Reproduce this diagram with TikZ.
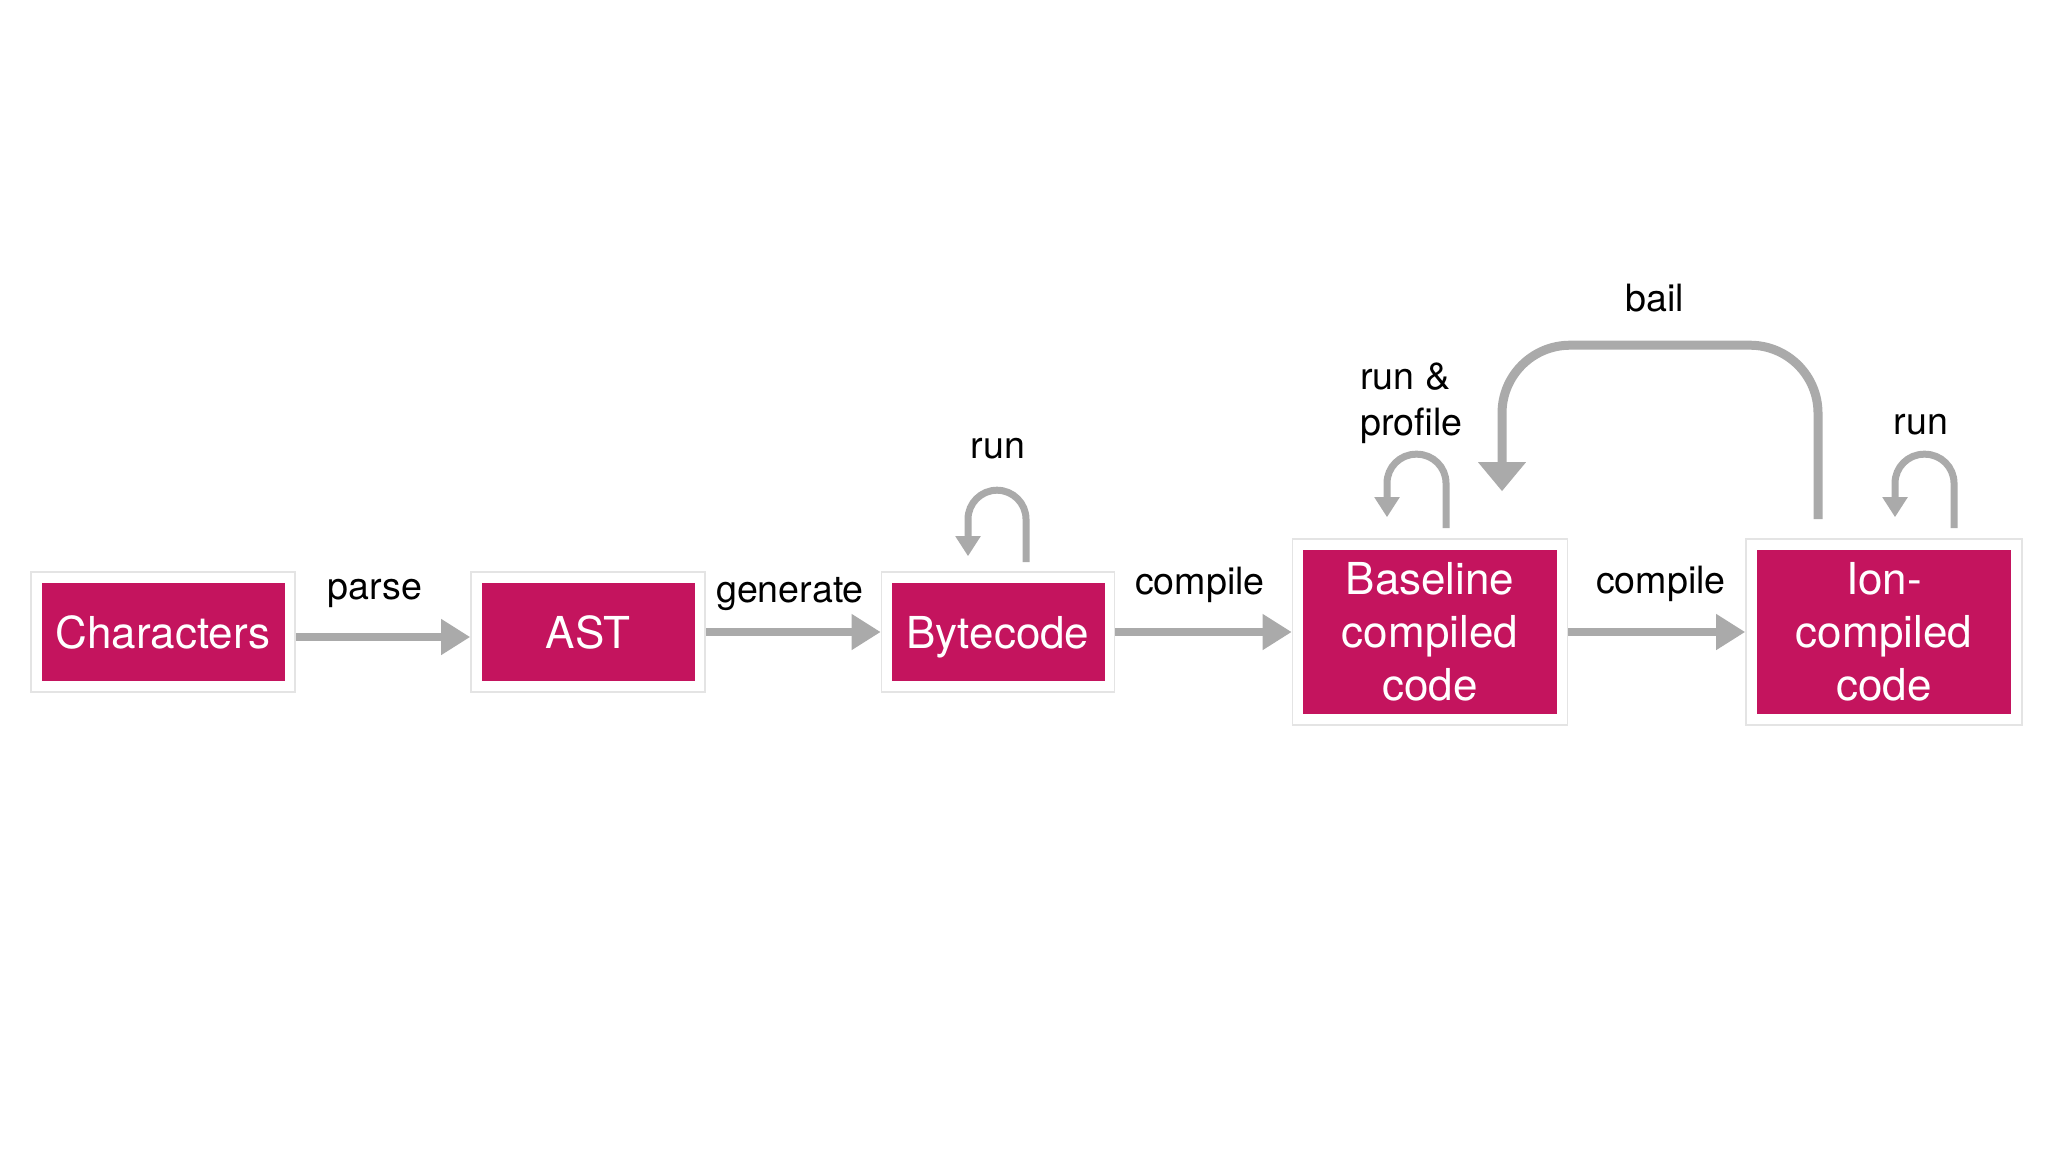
\documentclass[tikz,border=0pt]{standalone}
\usepackage{fontspec}
\setmainfont{TeX Gyre Heros}
\usetikzlibrary{arrows.meta,calc}
\definecolor{boxred}{HTML}{C4145E}
\definecolor{arrowgray}{HTML}{AAAAAA}
\definecolor{framegray}{HTML}{E4E4E4}
\tikzset{
  frame/.style={draw=framegray, line width=0.8pt, fill=white, inner sep=0pt},
  stagebox/.style={fill=boxred, text=white, inner sep=0pt, align=center,
     font=\fontsize{22pt}{26.5pt}\selectfont},
  onebox/.style={stagebox, text height=16pt, text depth=0pt},
  lbl/.style={text=black, inner sep=0pt, font=\fontsize{18.8pt}{23pt}\selectfont},
  mainar/.style={draw=arrowgray, line width=4pt, -{Triangle[length=14.5pt,width=17pt]}},
  loopar/.style={draw=arrowgray, line width=3.5pt, rounded corners=14.5pt,
     -{Triangle[length=10pt,width=12pt]}},
  bailar/.style={draw=arrowgray, line width=4.5pt, rounded corners=34pt,
     -{Triangle[length=14.5pt,width=23pt]}}
}
\begin{document}
\begin{tikzpicture}[x=0.5pt,y=-0.5pt]
\useasboundingbox[fill=white] (0,0) rectangle (2048,1152);

% frames
\node[frame, minimum width=132pt, minimum height=60pt] (charsF) at (163,632) {};
\node[frame, minimum width=117pt, minimum height=60pt] (astF) at (588,632) {};
\node[frame, minimum width=116.5pt, minimum height=60pt] (byteF) at (998,632) {};
\node[frame, minimum width=137.5pt, minimum height=93pt] (baseF) at (1430,632) {};
\node[frame, minimum width=138pt, minimum height=93pt] (ionF) at (1884,632) {};

% boxes
\node[onebox, minimum width=121.5pt, minimum height=49pt] (chars) at (charsF) {Characters};
\node[onebox, minimum width=106.5pt, minimum height=49pt] (ast) at (astF) {AST};
\node[onebox, minimum width=106.5pt, minimum height=49pt] (byte) at (byteF) {Bytecode};
\node[stagebox, minimum width=127pt, minimum height=82pt] (base) at (baseF) {Baseline\\compiled\\code};
\node[stagebox, minimum width=127pt, minimum height=82pt] (ion) at (ionF) {Ion-\\compiled\\code};

% main arrows
\draw[mainar] ([yshift=-2.5pt]charsF.east) -- ([yshift=-2.5pt]astF.west);
\draw[mainar] (astF.east) -- (byteF.west);
\draw[mainar] (byteF.east) -- (baseF.west);
\draw[mainar] (baseF.east) -- (ionF.west);

% loops
\draw[loopar] ($(byteF.north)+(28,-9)$) -- ++(0,-72) -- ++(-58,0) -- ++(0,66);
\draw[loopar] ($(baseF.north)+(16,-10)$) -- ++(0,-74) -- ++(-59,0) -- ++(0,63);
\draw[loopar] ($(ionF.north)+(70,-10)$) -- ++(0,-74) -- ++(-59,0) -- ++(0,63);

% bail
\draw[bailar] ($(ionF.north)+(-66,-19)$) -- ++(0,-174) -- ++(-316,0) -- ++(0,146);

% labels
\node[lbl] (lparse) at (375,593) {parse};
\node[lbl] (lgen) at (790,594) {generate};
\node[lbl] (lcomp1) at (1200,585) {compile};
\node[lbl] (lcomp2) at (1661,584) {compile};
\node[lbl] (lrun1) at (998,449) {run};
\node[lbl, align=left, anchor=west] (lrunprof) at (1360,403) {run \&\\profile};
\node[lbl] (lrun2) at (1921,425) {run};
\node[lbl] (lbail) at (1655,298) {bail};
\end{tikzpicture}
\end{document}
